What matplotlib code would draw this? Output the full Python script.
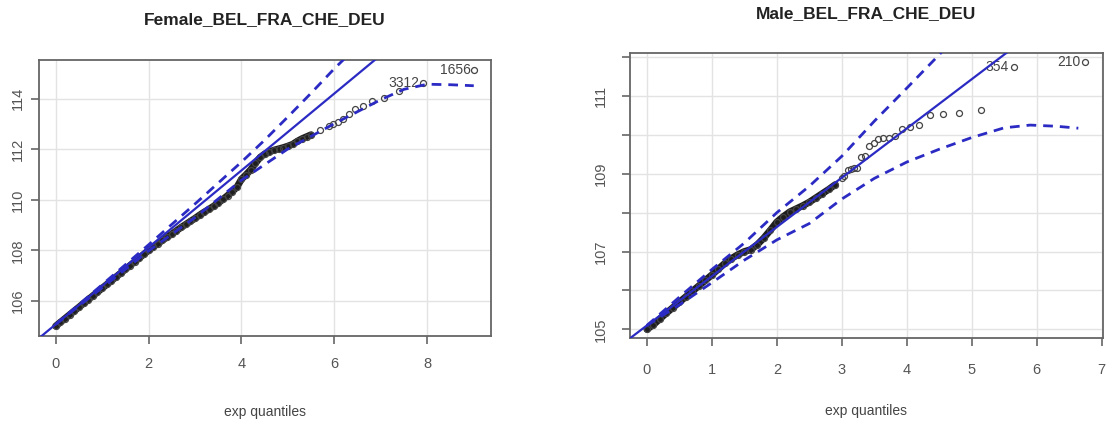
#QQ plots against exponential quantiles, female vs male

import matplotlib
matplotlib.use("Agg")
import matplotlib.pyplot as plt

plt.rcParams['font.family'] = ['Liberation Sans', 'DejaVu Sans']

#Female data
femaleX = [0.0, 0.1, 0.2, 0.3, 0.4, 0.5, 0.6, 0.7, 0.8, 0.9,
           1.0, 1.1, 1.2, 1.3, 1.4, 1.5, 1.6, 1.7, 1.8, 1.9,
           2.0, 2.1, 2.2, 2.3, 2.4, 2.5, 2.6, 2.7, 2.8, 2.9,
           3.0, 3.1, 3.2, 3.3, 3.4, 3.5, 3.6, 3.7, 3.8, 3.9,
           4.0, 4.1, 4.2, 4.3, 4.4, 4.5, 4.6, 4.7, 4.8, 4.9,
           5.0, 5.1, 5.2, 5.3, 5.4, 5.5, 5.7, 5.88, 5.97, 6.07,
           6.18, 6.31, 6.45, 6.61, 6.81, 7.06, 7.40, 7.91, 9.01]
femaleY = [105.00, 105.15, 105.30, 105.45, 105.60, 105.75, 105.90, 106.05, 106.20, 106.35,
           106.50, 106.65, 106.80, 106.95, 107.10, 107.25, 107.40, 107.55, 107.70, 107.85,
           108.00, 108.14, 108.27, 108.40, 108.53, 108.65, 108.78, 108.91, 109.03, 109.15,
           109.27, 109.40, 109.52, 109.63, 109.75, 109.88, 110.02, 110.17, 110.33, 110.50,
           110.82, 111.00, 111.20, 111.45, 111.68, 111.82, 111.90, 111.97, 112.02, 112.07,
           112.13, 112.20, 112.32, 112.42, 112.50, 112.58, 112.75, 112.91, 113.00, 113.08,
           113.20, 113.42, 113.58, 113.72, 113.92, 114.05, 114.30, 114.62, 115.15]
femaleDense = 56  #first points sit in the thick band
femaleLine = [105.07, 1.524]  #intercept, slope
femaleUpperX = [0, 1, 2, 3, 4, 4.5, 5, 5.5, 6, 6.4]
femaleUpperY = [105.07, 106.64, 108.22, 109.84, 111.50, 112.37, 113.29, 114.23, 115.20, 115.92]
femaleLowerX = [0, 1, 2, 3, 4, 5, 6, 7, 7.5, 8, 8.5, 9.0]
femaleLowerY = [105.07, 106.52, 107.98, 109.30, 110.78, 112.02, 113.02, 113.97, 114.38, 114.58, 114.56, 114.52]
femaleLabels = ["3312", "1656"]

#Male data
maleX = [0.0, 0.1, 0.2, 0.3, 0.4, 0.5, 0.6, 0.7, 0.8, 0.9,
         1.0, 1.1, 1.2, 1.3, 1.4, 1.5, 1.6, 1.7, 1.8, 1.9,
         2.0, 2.1, 2.2, 2.3, 2.4, 2.5, 2.6, 2.7, 2.8, 2.9,
         3.00, 3.04, 3.09, 3.14, 3.19, 3.24, 3.30, 3.36, 3.42, 3.49,
         3.56, 3.64, 3.73, 3.82, 3.93, 4.05, 4.19, 4.36, 4.55, 4.80,
         5.14, 5.65, 6.75]
maleY = [105.00, 105.12, 105.27, 105.42, 105.56, 105.70, 105.84, 105.98, 106.12, 106.26,
         106.40, 106.55, 106.70, 106.82, 106.92, 107.00, 107.05, 107.18, 107.35, 107.55,
         107.76, 107.90, 108.02, 108.10, 108.18, 108.27, 108.38, 108.49, 108.60, 108.72,
         108.88, 108.95, 109.10, 109.13, 109.14, 109.15, 109.42, 109.45, 109.72, 109.80,
         109.88, 109.91, 109.93, 109.98, 110.14, 110.19, 110.25, 110.50, 110.54, 110.57,
         110.64, 111.74, 111.86]
maleDense = 30
maleLine = [105.10, 1.266]
maleUpperX = [0, 0.5, 1.0, 1.5, 2.0, 2.5, 3.0, 3.5, 4.0, 4.5, 4.6]
maleUpperY = [105.10, 105.83, 106.54, 107.22, 108.00, 108.68, 109.45, 110.35, 111.20, 112.06, 112.25]
maleLowerX = [0, 0.5, 1.0, 1.5, 2.0, 2.5, 3.0, 3.5, 4.0, 4.5, 5.0, 5.5, 5.9, 6.3, 6.64]
maleLowerY = [105.10, 105.63, 106.20, 106.78, 107.30, 107.72, 108.35, 108.88, 109.30, 109.63,
              109.93, 110.18, 110.25, 110.22, 110.17]
maleLabels = ["354", "210"]

blue = "#2b2bc4"
gray = "#555555"

fig = plt.figure(figsize=(11.08, 4.23), dpi=100)


def qqPanel(ax, xs, ys, nDense, line, upX, upY, loX, loY, labels, xlim, ylim):
    ax.set_xlim(xlim)
    ax.set_ylim(ylim)
    ax.grid(True, color="#e3e3e3", linewidth=1.0)
    ax.set_axisbelow(True)
    #thick band where points overlap
    ax.plot(xs[:nDense], ys[:nDense], color="#1e1e1e", linewidth=5, solid_capstyle="round", zorder=2)
    ax.plot(xs, ys, linestyle="none", marker="o", markersize=4.3, markerfacecolor="none",
            markeredgecolor="#444444", markeredgewidth=0.9, zorder=3)
    lx = [xlim[0], xlim[1]]
    ax.plot(lx, [line[0] + line[1] * v for v in lx], color=blue, linewidth=1.6, zorder=4)
    ax.plot(upX, upY, color=blue, linewidth=2.0, linestyle=(0, (3.5, 2.5)), zorder=4)
    ax.plot(loX, loY, color=blue, linewidth=2.0, linestyle=(0, (3.5, 2.5)), zorder=4)
    #label the two largest points
    ax.text(xs[-2] - 0.08, ys[-2], labels[0], ha="right", va="center", fontsize=10, color="#444444")
    ax.text(xs[-1] - 0.08, ys[-1], labels[1], ha="right", va="center", fontsize=10, color="#444444")
    for s in ax.spines.values():
        s.set_color("#666666")
        s.set_linewidth(1.3)


#Female panel
ax1 = fig.add_axes([0.0352, 0.2057, 0.4079, 0.6525])
qqPanel(ax1, femaleX, femaleY, femaleDense, femaleLine, femaleUpperX, femaleUpperY,
        femaleLowerX, femaleLowerY, femaleLabels, (-0.358, 9.37), (104.61, 115.54))
ax1.set_xticks([0, 2, 4, 6, 8])
ax1.set_yticks([106, 108, 110, 112, 114])
ax1.tick_params(axis="x", length=6, width=1.2, color="#666666", labelsize=10.5, labelcolor=gray, pad=9)
ax1.tick_params(axis="y", length=6, width=1.2, color="#666666", labelsize=10.5, labelcolor=gray, pad=4)
for t in ax1.get_yticklabels():
    t.set_rotation(90)
    t.set_va("center")

#Male panel
ax2 = fig.add_axes([0.5686, 0.2002, 0.4269, 0.6752])
qqPanel(ax2, maleX, maleY, maleDense, maleLine, maleUpperX, maleUpperY,
        maleLowerX, maleLowerY, maleLabels, (-0.26, 7.02), (104.77, 112.11))
ax2.set_xticks([0, 1, 2, 3, 4, 5, 6, 7])
ax2.set_yticks([105, 106, 107, 108, 109, 110, 111, 112])
ax2.set_yticklabels(["105", "", "107", "", "109", "", "111", ""])
ax2.tick_params(axis="x", length=6, width=1.2, color="#666666", labelsize=10.5, labelcolor=gray, pad=12)
ax2.tick_params(axis="y", length=6, width=1.2, color="#666666", labelsize=10.5, labelcolor=gray, pad=10)
for t in ax2.get_yticklabels():
    t.set_rotation(90)
    t.set_va("center")

#Titles and axis labels
fig.text(0.2392, 0.953, "Female_BEL_FRA_CHE_DEU", ha="center", va="center",
         fontsize=12.5, fontweight="bold", color="#222222")
fig.text(0.7816, 0.969, "Male_BEL_FRA_CHE_DEU", ha="center", va="center",
         fontsize=12.5, fontweight="bold", color="#222222")
fig.text(0.2392, 0.026, "exp quantiles", ha="center", va="center", fontsize=10, color="#444444")
fig.text(0.7816, 0.028, "exp quantiles", ha="center", va="center", fontsize=10, color="#444444")

plt.savefig("out.png", dpi=100)
